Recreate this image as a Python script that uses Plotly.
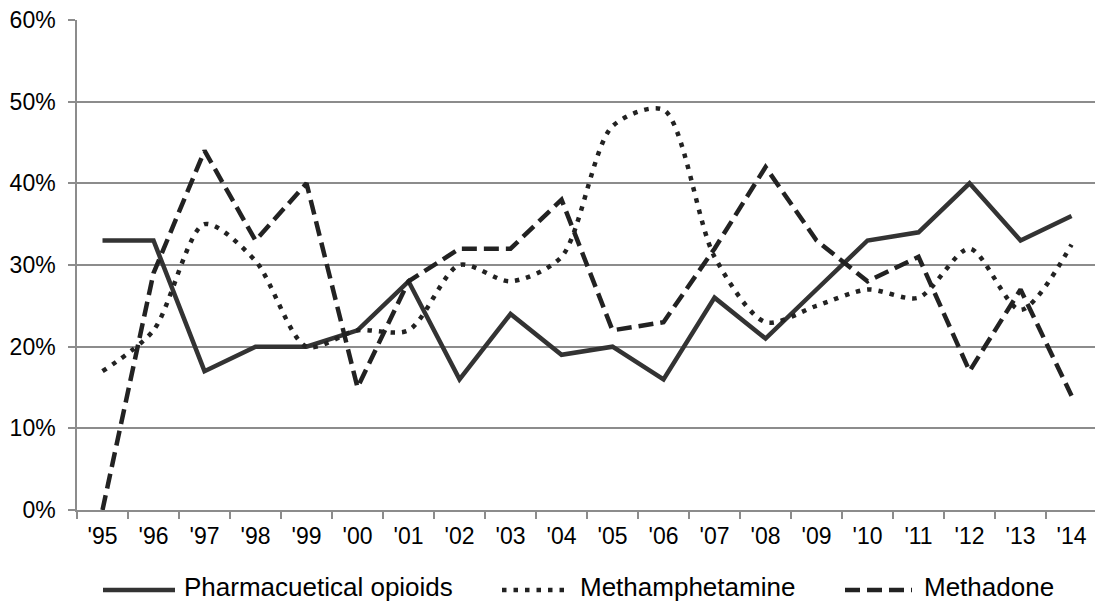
import plotly.graph_objects as go

years = ["'95", "'96", "'97", "'98", "'99", "'00", "'01", "'02", "'03", "'04",
         "'05", "'06", "'07", "'08", "'09", "'10", "'11", "'12", "'13", "'14"]
opioids = [33, 33, 17, 20, 20, 22, 28, 16, 24, 19, 20, 16, 26, 21, 27, 33, 34, 40, 33, 36]
meth = [17, 22, 35, 30.5, 20, 22, 22, 30, 28, 31, 47, 49, 31, 23, 25, 27, 26, 32, 24.5, 32.5]
methadone = [0, 29, 44, 33, 40, 15, 28, 32, 32, 38, 22, 23, 32, 42, 33, 28, 31, 17, 27, 14]
series_names = ["Pharmacuetical opioids", "Methamphetamine", "Methadone"]
y_ticks = [0, 10, 20, 30, 40, 50, 60]
y_tick_labels = ["0%", "10%", "20%", "30%", "40%", "50%", "60%"]

W, H = 1095, 602
L, R, T, B = 77, 0, 20, 92
PW, PH = W - L - R, H - T - B
FONT = "Liberation Sans, Arial, sans-serif"
GRID = "#8c8c8c"

SOLID = dict(color="#333333", width=4.5)
DOT = dict(color="#222222", width=4.5, dash="4.5px,7px")
DASH = dict(color="#222222", width=4.5, dash="15px,7px")

fig = go.Figure()
fig.add_trace(go.Scatter(x=years, y=opioids, mode="lines", name=series_names[0],
                         line=SOLID, showlegend=False))
fig.add_trace(go.Scatter(x=years, y=meth, mode="lines", name=series_names[1],
                         line=dict(**DOT, shape="spline", smoothing=0.8), showlegend=False))
fig.add_trace(go.Scatter(x=years, y=methadone, mode="lines", name=series_names[2],
                         line=DASH, showlegend=False))

def pxx(px):
    return (px - L) / PW

def pxy(py):
    return (H - B - py) / PH

# custom legend (long line samples as in the reference)
legend_items = [
    (103, 175, 182, SOLID, series_names[0]),
    (502, 566, 578, DOT, series_names[1]),
    (845, 912, 922, DASH, series_names[2]),
]
shapes = []
annotations = []
ly = 590
for x0, x1, tx, style, label in legend_items:
    shapes.append(dict(type="line", xref="paper", yref="paper",
                       x0=pxx(x0), x1=pxx(x1), y0=pxy(ly), y1=pxy(ly),
                       line=style))
    annotations.append(dict(xref="paper", yref="paper", x=pxx(tx), y=pxy(587),
                            xanchor="left", yanchor="middle", showarrow=False,
                            text=label, font=dict(family=FONT, size=26, color="#000000")))

fig.update_layout(
    width=W, height=H,
    margin=dict(l=L, r=R, t=T, b=B),
    paper_bgcolor="white", plot_bgcolor="white",
    font=dict(family=FONT, size=23, color="#000000"),
    shapes=shapes, annotations=annotations,
    showlegend=False,
)
fig.update_xaxes(
    type="category", range=[-0.5, 19.46],
    showgrid=False, showline=True, linecolor=GRID, linewidth=1.5,
    ticks="outside", tickson="boundaries", ticklen=7, tickcolor=GRID, tickwidth=1.5,
    tickfont=dict(family=FONT, size=23, color="#000000"),
    ticklabelstandoff=5,
)
fig.update_yaxes(
    range=[0, 60], tickmode="array", tickvals=y_ticks, ticktext=y_tick_labels,
    showgrid=True, gridcolor=GRID, gridwidth=1.5,
    showline=True, linecolor=GRID, linewidth=1.5,
    ticks="outside", ticklen=7, tickcolor=GRID, tickwidth=1.5,
    tickfont=dict(family=FONT, size=23, color="#000000"),
    zeroline=False, ticklabelstandoff=8,
)

fig.write_html("out.html", config={"displayModeBar": False},
               post_script="document.body.style.margin='0';document.body.style.overflow='hidden';")
